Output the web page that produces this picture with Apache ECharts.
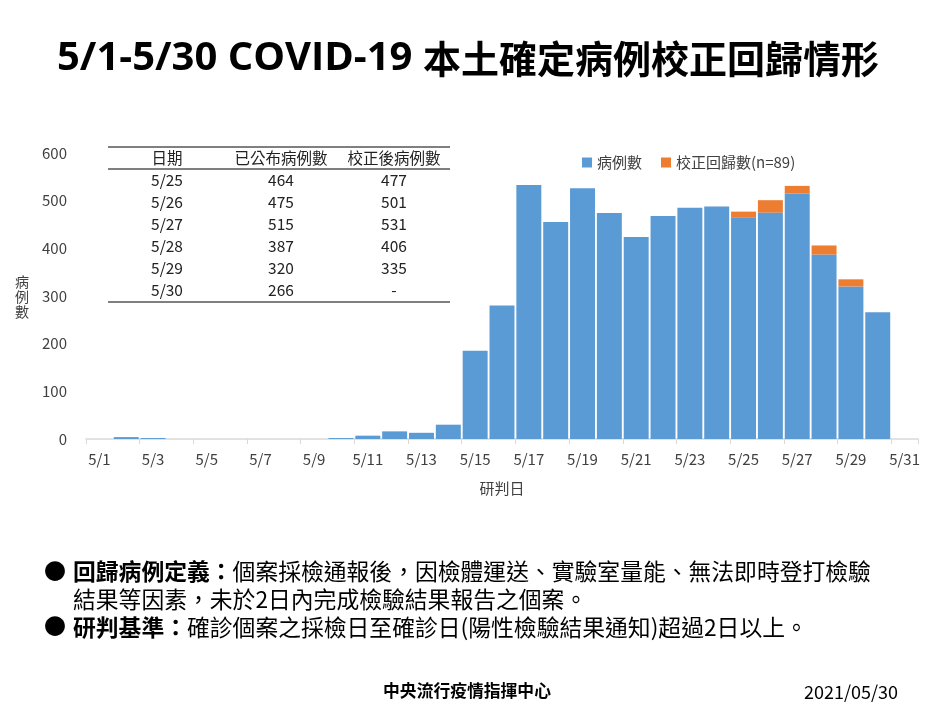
<!DOCTYPE html>
<html><head><meta charset="utf-8">
<script src="https://cdn.jsdelivr.net/npm/echarts@6/dist/echarts.min.js"></script>
<style>html,body{margin:0;padding:0;background:#fff;}#c{width:949px;height:719px;}</style>
</head><body><div id="c"></div>
<script>
const categories = ['5/1','5/2','5/3','5/4','5/5','5/6','5/7','5/8','5/9','5/10','5/11','5/12','5/13','5/14','5/15','5/16','5/17','5/18','5/19','5/20','5/21','5/22','5/23','5/24','5/25','5/26','5/27','5/28','5/29','5/30','5/31'];
const cases = [0,4,2,0,0,0,0,0,0,2,7,16,13,30,185,280,533,455,526,474,424,468,485,488,464,475,515,387,320,266,null];
const regression = [0,0,0,0,0,0,0,0,0,0,0,0,0,0,0,0,0,0,0,0,0,0,0,0,13,26,16,19,15,0,null];
const yTicks = [0,100,200,300,400,500,600];
const tableHeader = ['日期','已公布病例數','校正後病例數'];
const tableDates = ['5/25','5/26','5/27','5/28','5/29','5/30'];
const tablePublished = ['464','475','515','387','320','266'];
const tableCorrected = ['477','501','531','406','335','-'];

const FONT = '"Noto Sans CJK TC","Noto Sans",sans-serif';
const LATIN = '"Open Sans","Noto Sans",sans-serif';
const chart = echarts.init(document.getElementById('c'));

const graphics = [];
// title (latin part + CJK part)
graphics.push({type:'text', x:57, y:59, style:{text:'5/1-5/30 COVID-19', font:'bold 40px '+LATIN, fill:'#000', verticalAlign:'middle'}});
graphics.push({type:'text', x:423, y:59, style:{text:'本土確定病例校正回歸情形', font:'bold 38px '+FONT, fill:'#000', verticalAlign:'middle'}});
// y axis name
graphics.push({type:'text', x:22, y:274, style:{text:'病\n例\n數', font:'14px '+FONT, fill:'#404040', align:'center', lineHeight:15}});
// table
const tx0 = 108, tx1 = 450;
[147,169,302].forEach(y=>graphics.push({type:'line', shape:{x1:tx0,y1:y,x2:tx1,y2:y}, style:{stroke:'#000', lineWidth:1}}));
const colX = [167,281,394];
tableHeader.forEach((h,i)=>graphics.push({type:'text', x:colX[i], y:158, style:{text:h, font:'15.5px '+FONT, fill:'#222', align:'center', verticalAlign:'middle'}}));
tableDates.forEach((d,r)=>{
  const y = 180 + r*22;
  [d, tablePublished[r], tableCorrected[r]].forEach((t,i)=>graphics.push({type:'text', x:colX[i], y:y, style:{text:t, font:'15.5px '+FONT, fill:'#222', align:'center', verticalAlign:'middle'}}));
});
// footnotes
const FN = 22.8;
graphics.push({type:'text', x:44, y:571, style:{text:'●', font:'22px '+FONT, fill:'#000', verticalAlign:'middle'}});
graphics.push({type:'text', x:44, y:626, style:{text:'●', font:'22px '+FONT, fill:'#000', verticalAlign:'middle'}});
graphics.push({type:'text', x:73, y:571, style:{text:'{b|回歸病例定義：}{n|個案採檢通報後，因檢體運送、實驗室量能、無法即時登打檢驗}', verticalAlign:'middle', rich:{b:{font:'bold '+FN+'px '+FONT, fill:'#000'}, n:{font:FN+'px '+FONT, fill:'#000'}}}});
graphics.push({type:'text', x:73, y:599, style:{text:'結果等因素，未於2日內完成檢驗結果報告之個案。', font:FN+'px '+FONT, fill:'#000', verticalAlign:'middle'}});
graphics.push({type:'text', x:73, y:627, style:{text:'{b|研判基準：}{n|確診個案之採檢日至確診日(陽性檢驗結果通知)超過2日以上。}', verticalAlign:'middle', rich:{b:{font:'bold '+FN+'px '+FONT, fill:'#000'}, n:{font:FN+'px '+FONT, fill:'#000'}}}});
// footer
graphics.push({type:'text', x:467, y:691, style:{text:'中央流行疫情指揮中心', font:'bold 16.8px '+FONT, fill:'#000', align:'center', verticalAlign:'middle'}});
graphics.push({type:'text', x:851, y:692, style:{text:'2021/05/30', font:'18px '+FONT, fill:'#000', align:'center', verticalAlign:'middle'}});

chart.setOption({
  animation:false,
  textStyle:{fontFamily:FONT},
  grid:{left:86, right:31, top:153, bottom:280, containLabel:false},
  legend:{left:577, top:150, itemWidth:10, itemHeight:10, itemGap:19, icon:'rect',
    textStyle:{fontSize:15, color:'#404040', fontFamily:FONT},
    data:['病例數','校正回歸數(n=89)']},
  xAxis:{type:'category', data:categories, boundaryGap:true,
    name:'研判日', nameLocation:'middle', nameGap:42, nameTextStyle:{fontSize:15, color:'#404040'},
    axisLine:{lineStyle:{color:'#d9d9d9', width:1.5}},
    axisTick:{show:true, interval:1, length:5, alignWithLabel:false, lineStyle:{color:'#d9d9d9'}},
    axisLabel:{interval:1, fontSize:15, color:'#404040', margin:13}},
  yAxis:{type:'value', min:yTicks[0], max:yTicks[yTicks.length-1], interval:100,
    axisLine:{show:false}, axisTick:{show:false}, splitLine:{show:false},
    axisLabel:{fontSize:15, color:'#404040', margin:19}},
  series:[
    {name:'病例數', type:'bar', stack:'t', data:cases, barCategoryGap:'7%', itemStyle:{color:'#5B9BD5'}},
    {name:'校正回歸數(n=89)', type:'bar', stack:'t', data:regression, itemStyle:{color:'#ED7D31'}}
  ],
  graphic:graphics
});
</script></body></html>
